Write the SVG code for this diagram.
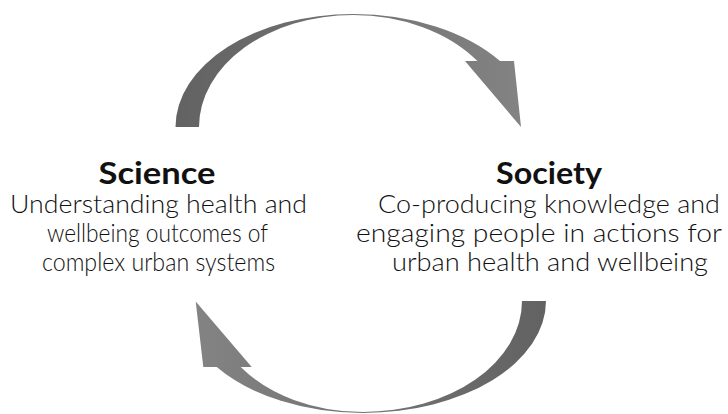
<svg xmlns="http://www.w3.org/2000/svg" width="728" height="414" viewBox="0 0 728 414">
  <style>
    .title { font-family: "Lato", "Open Sans", "Liberation Sans", sans-serif; font-weight: 700; font-size: 30px; fill: #111; text-anchor: middle; }
    .body { font-family: "Lato", "Open Sans", "Liberation Sans", sans-serif; font-weight: 300; font-size: 25px; fill: #111; text-anchor: middle; }
  </style>
  <defs>
    <!-- each curved arrow lightens toward its head -->
    <linearGradient id="gradTop" gradientUnits="userSpaceOnUse" x1="175" y1="0" x2="521" y2="0">
      <stop offset="0" stop-color="#626262"/>
      <stop offset="1" stop-color="#838383"/>
    </linearGradient>
    <linearGradient id="gradBottom" gradientUnits="userSpaceOnUse" x1="546" y1="0" x2="196" y2="0">
      <stop offset="0" stop-color="#626262"/>
      <stop offset="1" stop-color="#838383"/>
    </linearGradient>
  </defs>

  <rect width="728" height="414" fill="#ffffff"/>

  <g id="connectors">
    <!-- upper arc: Science to Society -->
    <path id="arrow-science-society" fill="url(#gradTop)"
          d="M 175.5 127 A 177.5 113 0 0 1 353 14 A 181 113 0 0 1 500 61 L 514 61 L 521 127 L 465 61 L 477.4 61 A 154 112 0 0 0 353 15 A 154 112 0 0 0 199 127 Z"/>
    <!-- lower arc: Society back to Science -->
    <path id="arrow-society-science" fill="url(#gradBottom)"
          d="M 546 301 A 183 112 0 0 1 363 413 A 181 112 0 0 1 216.7 367 L 203.3 367 L 195.7 301.5 L 251.7 367 L 240.7 367 A 152 111 0 0 0 363 412 A 159 111 0 0 0 522 301 Z"/>
  </g>

  <g id="science">
    <text class="title" x="157" y="184" textLength="117" lengthAdjust="spacingAndGlyphs">Science</text>
    <text class="body" x="158.5" y="213" textLength="297" lengthAdjust="spacingAndGlyphs">Understanding health and</text>
    <text class="body" x="157.5" y="242" textLength="221" lengthAdjust="spacingAndGlyphs">wellbeing outcomes of</text>
    <text class="body" x="158.5" y="271" textLength="233" lengthAdjust="spacingAndGlyphs">complex urban systems</text>
  </g>

  <g id="society">
    <text class="title" x="549" y="184" textLength="106" lengthAdjust="spacingAndGlyphs">Society</text>
    <text class="body" x="549" y="213" textLength="342" lengthAdjust="spacingAndGlyphs">Co-producing knowledge and</text>
    <text class="body" x="539" y="242" textLength="366" lengthAdjust="spacingAndGlyphs">engaging people in actions for</text>
    <text class="body" x="550" y="271" textLength="316" lengthAdjust="spacingAndGlyphs">urban health and wellbeing</text>
  </g>
</svg>
